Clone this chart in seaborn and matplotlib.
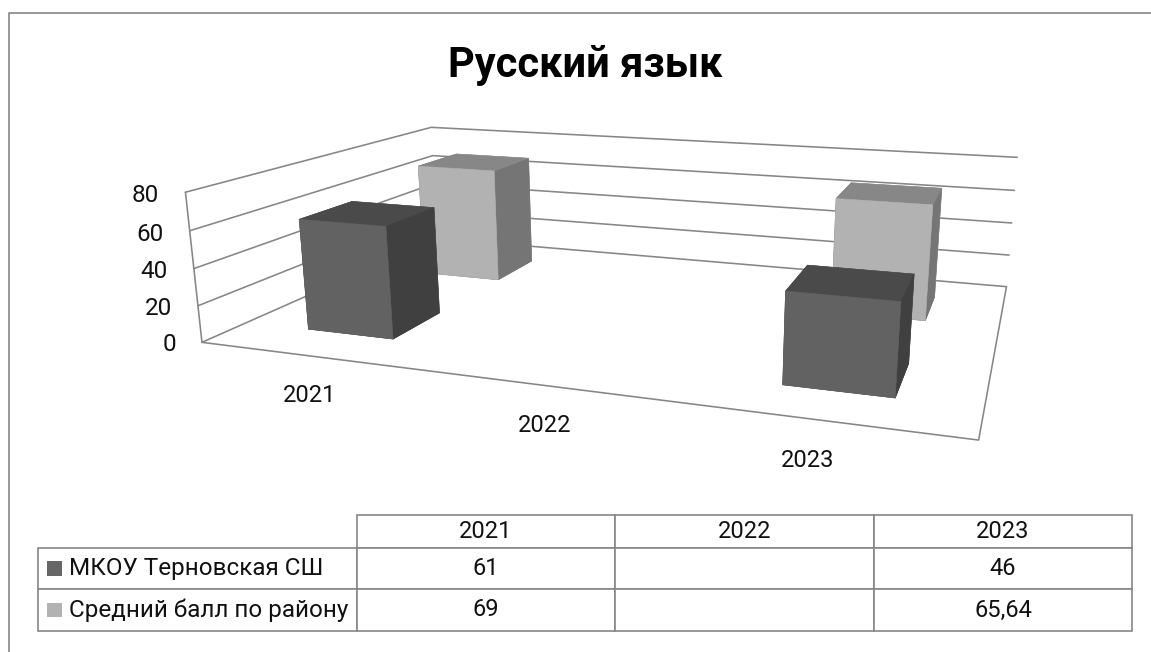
import numpy as np
import matplotlib
matplotlib.use("Agg")
import matplotlib.pyplot as plt
from matplotlib.lines import Line2D
from matplotlib.patches import Rectangle
import seaborn as sns

# данные
years = ["2021", "2022", "2023"]
series_names = ["МКОУ Терновская СШ", "Средний балл по району"]
school = [61, None, 46]
district = [69, None, 65.64]
z_ticks = [0, 20, 40, 60, 80]
title = "Русский язык"

sns.set_theme(style="white")
plt.rcParams["font.family"] = ["Roboto", "DejaVu Sans"]

W, H = 1151, 652
LINE = "#868686"
TEXT = "#111111"
colors = sns.color_palette(["#666666", "#b2b2b2"])
# грани: низ, верх, перед, зад, лево, право
dark_faces = ["#404040", "#4a4a4a", "#626262", "#626262", "#404040", "#404040"]
light_faces = ["#757575", "#878787", "#b2b2b2", "#b2b2b2", "#757575", "#757575"]

fig = plt.figure(figsize=(W / 100, H / 100), dpi=100, facecolor="white")
ax = fig.add_axes([(W - H) / 2 / W, 0, H / W, 1], projection="3d")
ax.set_axis_off()
ax.patch.set_visible(False)
ax.computed_zorder = False
ax.apply_aspect()

# углы коробки графика (x, серия, значение) и где они стоят на картинке
x_max, y_max, z_max = len(years), len(series_names), z_ticks[-1]
corners = np.array([[0, 0, 0], [1, 0, 0], [1, 1, 0], [0, 1, 0], [0, 0, 1], [0, 1, 1], [1, 1, 1]], float)
corner_px = np.array([[200.7, 342.3], [978.7, 440.0], [1006.0, 286.7], [438.3, 238.3],
                      [186.7, 192.3], [430.0, 127.3], [1017.7, 157.3]])


def to_axes(px):
    return ax.transData.inverted().transform(np.column_stack([px[:, 0], H - px[:, 1]]))


# проекция по точкам, вместо view_init
uv = to_axes(corner_px)
rows = []
for (cx, cy, cz), (u, v) in zip(corners, uv):
    rows.append([cx, cy, cz, 1, 0, 0, 0, 0, -u * cx, -u * cy, -u * cz, -u])
    rows.append([0, 0, 0, 0, cx, cy, cz, 1, -v * cx, -v * cy, -v * cz, -v])
P = np.linalg.svd(np.array(rows))[2][-1].reshape(3, 4)
P = P / (P[2] @ [0.5, 0.5, 0.5, 1])
P = P @ np.diag([1 / x_max, 1 / y_max, 1 / z_max, 1])
M = np.array([P[0], P[1], [0, 0, 0, -1], P[2]])
ax.get_proj = lambda: M

# сетка на стенках
for z in z_ticks:
    ax.plot([0, 0, x_max], [0, y_max, y_max], [z, z, z], color=LINE, lw=1.15, clip_on=False, zorder=1)
ax.plot([0, 0], [0, 0], [0, z_max], color=LINE, lw=1.15, clip_on=False, zorder=1)
ax.plot([0, x_max, x_max], [0, 0, y_max], [0, 0, 0], color=LINE, lw=1.15, clip_on=False, zorder=1)

# столбцы, дальний ряд первым
bar_w = 0.4
for s, (vals, faces) in reversed(list(enumerate(zip([school, district], [dark_faces, light_faces])))):
    for i, v in enumerate(vals):
        if v is None:
            continue
        bar = ax.bar3d(i + 0.3, s + 0.3, 0, bar_w, bar_w, v, color=faces, edgecolor=faces, linewidth=0.4,
                       shade=False, zorder=3 + (1 - s))
        bar.set_clip_on(False)

for z in z_ticks:
    ax.text(-0.13, 0, z - 3, str(z), ha="right", va="center", fontsize=17.5, color=TEXT)
label_x = [0.49, 1.49, 2.455]
label_z = [-21.5, -20.5, -20]
for x, z, y in zip(label_x, label_z, years):
    ax.text(x, 0, z, y, ha="center", va="center", fontsize=17, color=TEXT)

# верхний слой в пикселях: рамка, заголовок, таблица
top = fig.add_axes([0, 0, 1, 1])
top.set_xlim(0, W)
top.set_ylim(H, 0)
top.axis("off")
top.add_line(Line2D([9, 9, W], [H, 13, 13], color=LINE, lw=1.2))
top.text(585, 65.5, title, ha="center", va="center", fontsize=30, fontweight="bold", color="#000000")

fmt = lambda v: "" if v is None else f"{v:g}".replace(".", ",")
cell_text = [[fmt(v) for v in school], [fmt(v) for v in district]]
col_x = [38.3, 357, 615, 873.7, 1132.3]
row_y = [515.3, 548, 589, 631]
# bbox у таблицы считается только по колонкам с данными, подписи рядов слева от него
table = top.table(cellText=cell_text, colLabels=years, cellLoc="center", colLoc="center",
                  bbox=[col_x[1] / W, 1 - row_y[3] / H, (col_x[4] - col_x[1]) / W, (row_y[3] - row_y[0]) / H])
for r, name in enumerate(series_names, start=1):
    table.add_cell(r, -1, width=0.1, height=0.1, text=name, loc="left")
table.auto_set_font_size(False)
table.set_fontsize(17)
for (r, c), cell in table.get_celld().items():
    cell.set_edgecolor(LINE)
    cell.set_linewidth(1.2)
    cell.set_width((col_x[c + 2] - col_x[c + 1]) / W)
    cell.set_height((row_y[r + 1] - row_y[r]) / H)
    cell.get_text().set_color(TEXT)
    if c == -1:
        cell.PAD = 0.0975
        cell.get_text().set_fontsize(17.5)

for k, y0 in enumerate([561, 602.7]):
    top.add_patch(Rectangle((47, y0), 15, 14.7, color=colors[k], lw=0))

fig.savefig("out.png", dpi=100)
